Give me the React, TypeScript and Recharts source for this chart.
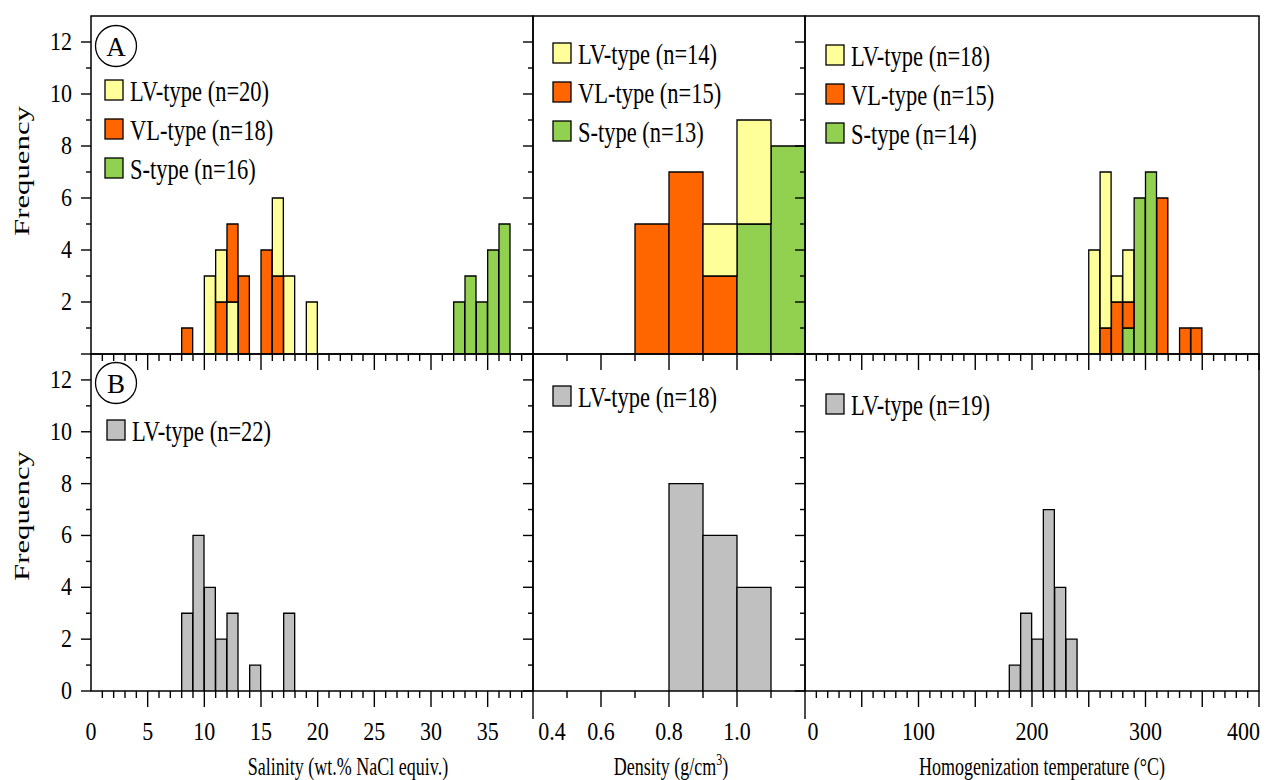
import { BarChart, Bar, XAxis, YAxis, Cell, ReferenceArea } from "recharts";

const W = 1272;
const H = 780;
const FONT = '"Liberation Serif", "Times New Roman", serif';

const LV = "#FFFF99";
const VL = "#FF6600";
const ST = "#92D050";
const GRAY = "#C0C0C0";

// [bin start, count]
// panel A - salinity (wt.% NaCl equiv.)
const salinityLV_A = [[10, 3], [11, 4], [12, 2], [16, 6], [17, 3], [19, 2]];
const salinityVL_A = [[8, 1], [11, 2], [12, 5], [13, 3], [15, 4], [16, 3]];
const salinityS_A = [[32, 2], [33, 3], [34, 2], [35, 4], [36, 5]];
// panel A - density (g/cm3)
const densityLV_A = [[0.9, 5], [1.0, 9]];
const densityVL_A = [[0.7, 5], [0.8, 7], [0.9, 3]];
const densityS_A = [[1.0, 5], [1.1, 8]];
// panel A - homogenization temperature (°C)
const tempLV_A = [[250, 4], [260, 7], [270, 3], [280, 4]];
const tempVL_A = [[260, 1], [270, 2], [280, 2], [310, 6], [330, 1], [340, 1]];
const tempS_A = [[280, 1], [290, 6], [300, 7]];
// panel B
const salinityLV_B = [[8, 3], [9, 6], [10, 4], [11, 2], [12, 3], [14, 1], [17, 3]];
const densityLV_B = [[0.8, 8], [0.9, 6], [1.0, 4]];
const tempLV_B = [[180, 1], [190, 3], [200, 2], [210, 7], [220, 4], [230, 2]];

const yTicks = [0, 1, 2, 3, 4, 5, 6, 7, 8, 9, 10, 11, 12];

const COLS = [[91, 533], [533, 805], [805, 1259]];
const ROWS = [[16, 354], [354, 691]];
const AXIS_W = 30;
const AXIS_H = 30;

function range(a: number, b: number, s: number) {
  const out: number[] = [];
  const n = Math.round((b - a) / s);
  for (let i = 0; i <= n; i++) out.push(Math.round((a + i * s) * 1000) / 1000);
  return out;
}

type Series = { values: number[][]; color: string; label: string };

type Axis = {
  min: number;
  max: number;
  step: number;
  ticks: number[];
  len: (v: number) => number;
  label: (v: number) => string | null;
};

const salinityAxis: Axis = {
  min: 0, max: 39, step: 1,
  ticks: range(0, 38, 1),
  len: (v) => (v === 0 ? 0 : v % 5 === 0 ? 16 : 7),
  label: (v) => (v % 5 === 0 ? String(v) : null),
};
const densityAxis: Axis = {
  min: 0.4, max: 1.2, step: 0.1,
  ticks: range(0.4, 1.1, 0.1),
  len: (v) => (v === 0.4 ? 28 : Math.round(v * 10) % 2 === 0 ? 16 : 7),
  label: (v) => (Math.round(v * 10) % 2 === 0 ? v.toFixed(1) : null),
};
const tempAxis: Axis = {
  min: 0, max: 400, step: 10,
  ticks: range(0, 400, 10),
  len: (v) => (v === 0 ? 28 : v % 50 === 0 ? 16 : 7),
  label: (v) => (v % 100 === 0 ? String(v) : null),
};

type PanelDef = { row: number; col: number; axis: Axis; series: Series[]; legend: [number, number] };

const panels: PanelDef[] = [
  {
    row: 0, col: 0, axis: salinityAxis, legend: [105, 80],
    series: [
      { values: salinityLV_A, color: LV, label: "LV-type (n=20)" },
      { values: salinityVL_A, color: VL, label: "VL-type (n=18)" },
      { values: salinityS_A, color: ST, label: "S-type (n=16)" },
    ],
  },
  {
    row: 0, col: 1, axis: densityAxis, legend: [553, 43],
    series: [
      { values: densityLV_A, color: LV, label: "LV-type (n=14)" },
      { values: densityVL_A, color: VL, label: "VL-type (n=15)" },
      { values: densityS_A, color: ST, label: "S-type (n=13)" },
    ],
  },
  {
    row: 0, col: 2, axis: tempAxis, legend: [826, 45],
    series: [
      { values: tempLV_A, color: LV, label: "LV-type (n=18)" },
      { values: tempVL_A, color: VL, label: "VL-type (n=15)" },
      { values: tempS_A, color: ST, label: "S-type (n=14)" },
    ],
  },
  {
    row: 1, col: 0, axis: salinityAxis, legend: [107, 420],
    series: [{ values: salinityLV_B, color: GRAY, label: "LV-type (n=22)" }],
  },
  {
    row: 1, col: 1, axis: densityAxis, legend: [553, 386],
    series: [{ values: densityLV_B, color: GRAY, label: "LV-type (n=18)" }],
  },
  {
    row: 1, col: 2, axis: tempAxis, legend: [826, 394],
    series: [{ values: tempLV_B, color: GRAY, label: "LV-type (n=19)" }],
  },
];

// overlapping histogram: taller bars behind, so stack sorted layers
function buildBins(axis: Axis, series: Series[]) {
  const n = Math.round((axis.max - axis.min) / axis.step);
  const rows: any[] = [];
  for (let i = 0; i < n; i++) {
    const start = Math.round((axis.min + i * axis.step) * 1000) / 1000;
    const key = Math.round(start * 1000);
    const present = series
      .map((s) => {
        const hit = s.values.find((p) => Math.round(p[0] * 1000) === key);
        return { v: hit ? hit[1] : 0, c: s.color };
      })
      .filter((e) => e.v > 0)
      .sort((a, b) => a.v - b.v);
    const row: any = { bin: String(i), x: start };
    let prev = 0;
    for (let k = 0; k < 3; k++) {
      const e = present[k];
      row["l" + k] = e ? e.v - prev : 0;
      row["c" + k] = e ? e.c : "none";
      if (e) prev = e.v;
    }
    rows.push(row);
  }
  return rows;
}

function SText(props: { x: number; y: number; size: number; sy: number; anchor?: string; rotate?: boolean; children: any }) {
  const t = `translate(${props.x},${props.y}) scale(1,${props.sy})` + (props.rotate ? " rotate(-90)" : "");
  return (
    <text transform={t} fontFamily={FONT} fontSize={props.size} textAnchor={props.anchor || "start"} fill="#000">
      {props.children}
    </text>
  );
}

function Panel({ p }: { p: PanelDef }) {
  const [x0, x1] = COLS[p.col];
  const [y0, y1] = ROWS[p.row];
  const data = buildBins(p.axis, p.series);

  const xTick = (props: any) => {
    const { x, y, payload } = props;
    const v = payload.value;
    const len = p.axis.len(v);
    const lab = p.row === 1 ? p.axis.label(v) : null;
    // labels at panel joins sit just inside the panel
    let lx = x;
    let anchor = "middle";
    if (p.col > 0 && v === p.axis.min) lx = x + (lab && lab.length > 1 ? 19 : 8);
    if (p.col === 2 && v === p.axis.max) {
      lx = x + 1;
      anchor = "end";
    }
    return (
      <g>
        {len > 0 && <line x1={x} x2={x} y1={y} y2={y + len} stroke="#000" strokeWidth={1.4} />}
        {lab != null && (
          <SText x={lx} y={740} size={22} sy={1.12} anchor={anchor}>
            {lab}
          </SText>
        )}
      </g>
    );
  };

  const yTick = (props: any) => {
    const { x, y, payload } = props;
    const v = payload.value;
    const len = v % 2 === 0 ? 10 : 5;
    const showLab = p.col === 0 && v % 2 === 0 && (p.row === 1 || v > 0);
    return (
      <g>
        <line x1={x - len} x2={x} y1={y} y2={y} stroke="#000" strokeWidth={1.4} />
        {showLab && (
          <SText x={72} y={y + 8} size={22} sy={1.12} anchor="end">
            {String(v)}
          </SText>
        )}
      </g>
    );
  };

  return (
    <div style={{ position: "absolute", left: 0, top: 0 }}>
      <BarChart
        width={W}
        height={H}
        data={data}
        margin={{ top: y0, left: x0 - AXIS_W, right: W - x1, bottom: H - y1 - AXIS_H }}
        barCategoryGap={0}
        barGap={0}
      >
        <XAxis xAxisId="bin" dataKey="bin" type="category" hide height={0} />
        <XAxis
          xAxisId="num"
          dataKey="x"
          type="number"
          domain={[p.axis.min, p.axis.max]}
          allowDataOverflow
          ticks={p.axis.ticks}
          interval={0}
          height={AXIS_H}
          axisLine={false}
          tickLine={false}
          tickSize={0}
          tickMargin={0}
          tick={xTick}
        />
        <YAxis
          yAxisId="y"
          type="number"
          domain={[0, 13]}
          allowDataOverflow
          ticks={yTicks}
          interval={0}
          width={AXIS_W}
          axisLine={false}
          tickLine={false}
          tickSize={0}
          tickMargin={0}
          tick={yTick}
        />
        {[0, 1, 2].map((k) => (
          <Bar
            key={k}
            dataKey={"l" + k}
            stackId="s"
            xAxisId="bin"
            yAxisId="y"
            stroke="#000"
            strokeWidth={1.3}
            isAnimationActive={false}
          >
            {data.map((r, i) => (
              <Cell key={i} fill={r["c" + k]} />
            ))}
          </Bar>
        ))}
        <ReferenceArea
          xAxisId="num"
          yAxisId="y"
          x1={p.axis.min}
          x2={p.axis.max}
          y1={0}
          y2={13}
          ifOverflow="visible"
          fill="none"
          fillOpacity={0}
          stroke="#000"
          strokeWidth={1.5}
          strokeOpacity={1}
        />
      </BarChart>
    </div>
  );
}

function Overlay() {
  return (
    <svg width={W} height={H} style={{ position: "absolute", left: 0, top: 0 }}>
      <SText x={29} y={171} size={22} sy={1.4} anchor="middle" rotate>
        Frequency
      </SText>
      <SText x={29} y={516} size={22} sy={1.4} anchor="middle" rotate>
        Frequency
      </SText>
      <SText x={348} y={775} size={18} sy={1.38} anchor="middle">
        Salinity (wt.% NaCl equiv.)
      </SText>
      <text transform="translate(671,775) scale(1,1.38)" fontFamily={FONT} fontSize={18} textAnchor="middle" fill="#000">
        Density (g/cm
        <tspan fontSize={12} dy={-7}>3</tspan>
        <tspan dy={7}>)</tspan>
      </text>
      <SText x={1042} y={775} size={18} sy={1.38} anchor="middle">
        Homogenization temperature (°C)
      </SText>

      {[["A", 46], ["B", 383]].map(([t, cy]) => (
        <g key={t as string}>
          <circle cx={116} cy={cy as number} r={20.5} fill="#fff" stroke="#000" strokeWidth={1.3} />
          <SText x={116} y={(cy as number) + 10} size={27} sy={1.05} anchor="middle">
            {t}
          </SText>
        </g>
      ))}

      {panels.map((p, pi) =>
        p.series.map((s, si) => {
          const lx = p.legend[0];
          const ly = p.legend[1] + si * 39;
          return (
            <g key={pi + "-" + si}>
              <rect x={lx} y={ly} width={18} height={20} fill={s.color} stroke="#000" strokeWidth={1.3} />
              <SText x={lx + 25} y={ly + 21} size={22.5} sy={1.3}>
                {s.label}
              </SText>
            </g>
          );
        })
      )}
    </svg>
  );
}

export default function App() {
  return (
    <div style={{ position: "absolute", left: 0, top: 0, width: W, height: H, background: "#fff" }}>
      {panels.map((p, i) => (
        <Panel key={i} p={p} />
      ))}
      <Overlay />
    </div>
  );
}
